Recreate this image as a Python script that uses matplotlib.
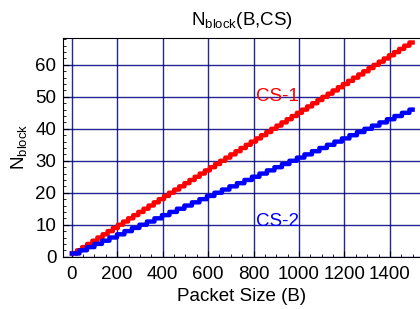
import numpy as np
import matplotlib.pyplot as plt
from matplotlib.ticker import MultipleLocator

plt.rcParams['font.family'] = ['Liberation Sans', 'DejaVu Sans']

schemes = ['CS-1', 'CS-2']
bytes_per_block = [22.5, 33.0]
colors = ['#ff0000', '#0000ff']
label_pos = [(906, 50), (906, 11)]

packet_size = np.arange(1, 1501)

fig = plt.figure(figsize=(4.2, 3.09), dpi=100)
ax = fig.add_axes([0.1507, 0.1693, 0.849, 0.7087])

for name, bpb, c, (tx, ty) in zip(schemes, bytes_per_block, colors, label_pos):
    n_block = np.ceil(packet_size / bpb)
    ax.step(packet_size, n_block, where='post', color=c, lw=3.2, zorder=3)
    ax.text(tx, ty, name, color=c, fontsize=13.5, ha='center', va='center')

ax.set_xlim(-37, 1532)
ax.set_ylim(0, 68.5)
ax.xaxis.set_major_locator(MultipleLocator(200))
ax.xaxis.set_minor_locator(MultipleLocator(50))
ax.yaxis.set_major_locator(MultipleLocator(10))
ax.yaxis.set_minor_locator(MultipleLocator(2))
ax.grid(True, which='major', color='#000080', lw=1, alpha=0.85)
ax.tick_params(which='both', direction='in', labelsize=13.5, top=False, right=False)
ax.tick_params(which='major', length=4)
ax.tick_params(which='minor', length=2)
ax.tick_params(axis='x', pad=7)
ax.tick_params(axis='y', pad=5)
ax.spines['right'].set_visible(False)

ax.set_xlabel('Packet Size (B)', fontsize=13.5, labelpad=3)
ax.set_ylabel(r'N$_{\mathregular{block}}$', fontsize=13.5, labelpad=4)
ax.set_title(r'N$_{\mathregular{block}}$(B,CS)', fontsize=13.5, pad=9)

fig.savefig('out.png', dpi=100)
